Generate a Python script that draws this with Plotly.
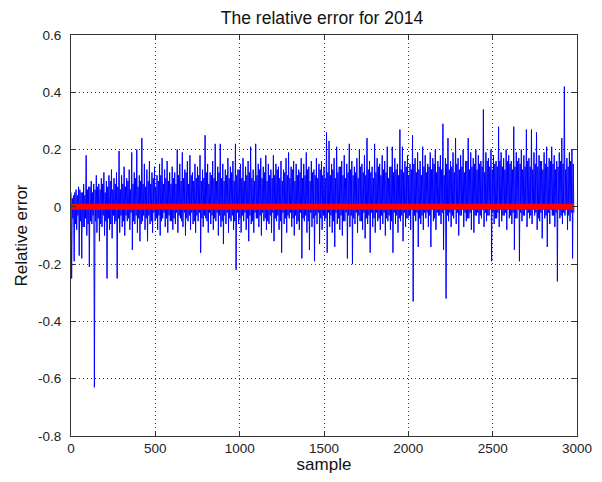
import numpy as np
import plotly.graph_objects as go

# Upper spikes of the relative error (one per 15-sample block)
peaks = [
    0.05, 0.04, 0.06, 0.07, 0.05, 0.08, 0.18, 0.07, 0.09, 0.08,
    0.11, 0.08, 0.10, 0.12, 0.09, 0.11, 0.13, 0.10, 0.12, 0.195,
    0.11, 0.14, 0.10, 0.13, 0.19, 0.12, 0.20, 0.11, 0.24, 0.15,
    0.13, 0.16, 0.12, 0.14, 0.11, 0.15, 0.17, 0.13, 0.16, 0.12,
    0.14, 0.12, 0.20, 0.15, 0.19, 0.13, 0.16, 0.18, 0.12, 0.15,
    0.14, 0.18, 0.13, 0.25, 0.15, 0.12, 0.16, 0.22, 0.14, 0.22,
    0.15, 0.13, 0.17, 0.14, 0.16, 0.22, 0.13, 0.15, 0.17, 0.14,
    0.16, 0.21, 0.13, 0.22, 0.15, 0.17, 0.14, 0.18, 0.15, 0.13,
    0.18, 0.15, 0.14, 0.16, 0.13, 0.17, 0.19, 0.14, 0.16, 0.15,
    0.13, 0.17, 0.15, 0.19, 0.14, 0.16, 0.13, 0.17, 0.15, 0.16,
    0.14, 0.26, 0.23, 0.15, 0.17, 0.21, 0.14, 0.16, 0.18, 0.15,
    0.22, 0.16, 0.14, 0.17, 0.20, 0.15, 0.18, 0.24, 0.16, 0.14,
    0.22, 0.17, 0.15, 0.18, 0.16, 0.21, 0.14, 0.21, 0.17, 0.15,
    0.27, 0.21, 0.16, 0.18, 0.15, 0.25, 0.17, 0.19, 0.16, 0.21,
    0.18, 0.15, 0.19, 0.17, 0.20, 0.16, 0.18, 0.29, 0.17, 0.24,
    0.16, 0.19, 0.24, 0.17, 0.18, 0.20, 0.16, 0.24, 0.19, 0.17,
    0.20, 0.18, 0.16, 0.34, 0.19, 0.17, 0.20, 0.18, 0.16, 0.28,
    0.19, 0.17, 0.20, 0.18, 0.16, 0.28, 0.19, 0.17, 0.20, 0.18,
    0.27, 0.17, 0.27, 0.19, 0.26, 0.18, 0.16, 0.19, 0.21, 0.17,
    0.21, 0.18, 0.16, 0.19, 0.24, 0.42, 0.17, 0.19, 0.20,
]

# Lower spikes of the relative error (one per 15-sample block)
troughs = [
    -0.25, -0.19, -0.08, -0.17, -0.18, -0.07, -0.10, -0.21, -0.06, -0.63,
    -0.09, -0.12, -0.07, -0.10, -0.25, -0.08, -0.11, -0.06, -0.25, -0.09,
    -0.07, -0.10, -0.05, -0.08, -0.15, -0.06, -0.09, -0.12, -0.05, -0.08,
    -0.12, -0.06, -0.09, -0.05, -0.08, -0.10, -0.04, -0.07, -0.09, -0.05,
    -0.08, -0.06, -0.09, -0.04, -0.07, -0.10, -0.05, -0.08, -0.06, -0.09,
    -0.05, -0.16, -0.07, -0.04, -0.09, -0.06, -0.08, -0.05, -0.10, -0.07,
    -0.13, -0.06, -0.09, -0.05, -0.08, -0.22, -0.06, -0.09, -0.05, -0.08,
    -0.12, -0.06, -0.09, -0.04, -0.07, -0.10, -0.05, -0.08, -0.06, -0.09,
    -0.12, -0.05, -0.08, -0.16, -0.06, -0.09, -0.04, -0.07, -0.10, -0.06,
    -0.08, -0.18, -0.05, -0.09, -0.15, -0.07, -0.19, -0.06, -0.13, -0.08,
    -0.05, -0.16, -0.07, -0.09, -0.14, -0.06, -0.08, -0.10, -0.05, -0.18,
    -0.07, -0.20, -0.06, -0.09, -0.05, -0.08, -0.11, -0.06, -0.16, -0.07,
    -0.09, -0.05, -0.08, -0.06, -0.10, -0.05, -0.08, -0.16, -0.06, -0.09,
    -0.05, -0.12, -0.07, -0.04, -0.08, -0.33, -0.05, -0.14, -0.06, -0.08,
    -0.04, -0.07, -0.14, -0.05, -0.08, -0.03, -0.06, -0.15, -0.32, -0.05,
    -0.07, -0.04, -0.06, -0.10, -0.03, -0.07, -0.05, -0.04, -0.08, -0.09,
    -0.03, -0.06, -0.04, -0.07, -0.05, -0.03, -0.19, -0.06, -0.04, -0.07,
    -0.05, -0.03, -0.08, -0.04, -0.06, -0.15, -0.04, -0.19, -0.05, -0.03,
    -0.07, -0.04, -0.06, -0.03, -0.08, -0.05, -0.11, -0.04, -0.14, -0.06,
    -0.03, -0.07, -0.26, -0.04, -0.06, -0.03, -0.08, -0.05, -0.18,
]

# Typical (dense core) upper values per block
core_high = [
    0.03, 0.05, 0.04, 0.06, 0.05, 0.04, 0.06, 0.07, 0.05, 0.06,
    0.07, 0.06, 0.08, 0.05, 0.07, 0.09, 0.06, 0.08, 0.07, 0.06,
    0.08, 0.07, 0.09, 0.06, 0.08, 0.10, 0.07, 0.09, 0.08, 0.07,
    0.09, 0.08, 0.10, 0.07, 0.09, 0.11, 0.08, 0.10, 0.09, 0.08,
    0.10, 0.08, 0.11, 0.09, 0.10, 0.12, 0.08, 0.11, 0.09, 0.10,
    0.11, 0.09, 0.10, 0.12, 0.08, 0.11, 0.10, 0.09, 0.12, 0.10,
    0.09, 0.11, 0.10, 0.12, 0.09, 0.11, 0.13, 0.10, 0.09, 0.11,
    0.12, 0.10, 0.09, 0.11, 0.13, 0.10, 0.12, 0.09, 0.11, 0.10,
    0.11, 0.13, 0.10, 0.09, 0.12, 0.11, 0.10, 0.13, 0.09, 0.11,
    0.12, 0.10, 0.11, 0.13, 0.09, 0.12, 0.11, 0.10, 0.13, 0.11,
    0.10, 0.12, 0.11, 0.13, 0.10, 0.12, 0.14, 0.11, 0.10, 0.12,
    0.13, 0.11, 0.12, 0.10, 0.14, 0.12, 0.11, 0.13, 0.12, 0.10,
    0.12, 0.14, 0.11, 0.13, 0.12, 0.10, 0.14, 0.12, 0.13, 0.11,
    0.13, 0.12, 0.14, 0.11, 0.13, 0.15, 0.12, 0.13, 0.11, 0.14,
    0.12, 0.14, 0.13, 0.15, 0.12, 0.14, 0.13, 0.11, 0.15, 0.13,
    0.14, 0.12, 0.15, 0.13, 0.14, 0.12, 0.16, 0.13, 0.14, 0.15,
    0.13, 0.15, 0.14, 0.12, 0.16, 0.14, 0.13, 0.15, 0.14, 0.16,
    0.14, 0.13, 0.16, 0.15, 0.13, 0.14, 0.16, 0.15, 0.13, 0.14,
    0.16, 0.14, 0.13, 0.15, 0.14, 0.16, 0.13, 0.15, 0.14, 0.16,
    0.15, 0.13, 0.14, 0.16, 0.15, 0.13, 0.14, 0.16, 0.15,
]

# Typical (dense core) lower values per block
core_low = [
    -0.04, -0.06, -0.03, -0.05, -0.07, -0.04, -0.06, -0.05, -0.03, -0.05,
    -0.04, -0.06, -0.03, -0.05, -0.04, -0.06, -0.03, -0.05, -0.04, -0.03,
    -0.05, -0.03, -0.04, -0.02, -0.05, -0.03, -0.04, -0.06, -0.03, -0.04,
    -0.03, -0.05, -0.02, -0.04, -0.03, -0.05, -0.02, -0.04, -0.03, -0.05,
    -0.04, -0.02, -0.03, -0.05, -0.02, -0.04, -0.03, -0.02, -0.05, -0.03,
    -0.02, -0.04, -0.03, -0.05, -0.02, -0.03, -0.04, -0.02, -0.03, -0.05,
    -0.03, -0.02, -0.04, -0.03, -0.05, -0.02, -0.04, -0.03, -0.02, -0.04,
    -0.03, -0.05, -0.02, -0.04, -0.03, -0.02, -0.04, -0.05, -0.03, -0.02,
    -0.04, -0.03, -0.05, -0.02, -0.04, -0.03, -0.02, -0.04, -0.03, -0.05,
    -0.02, -0.04, -0.03, -0.05, -0.02, -0.04, -0.03, -0.02, -0.04, -0.03,
    -0.04, -0.02, -0.03, -0.05, -0.02, -0.04, -0.03, -0.05, -0.02, -0.03,
    -0.03, -0.04, -0.02, -0.03, -0.05, -0.02, -0.04, -0.03, -0.02, -0.04,
    -0.02, -0.04, -0.03, -0.02, -0.04, -0.03, -0.05, -0.02, -0.03, -0.04,
    -0.03, -0.02, -0.04, -0.03, -0.01, -0.03, -0.02, -0.04, -0.03, -0.02,
    -0.02, -0.03, -0.01, -0.04, -0.02, -0.03, -0.02, -0.01, -0.03, -0.02,
    -0.03, -0.01, -0.02, -0.03, -0.01, -0.02, -0.04, -0.02, -0.01, -0.03,
    -0.02, -0.03, -0.01, -0.02, -0.03, -0.01, -0.02, -0.04, -0.02, -0.01,
    -0.03, -0.02, -0.01, -0.03, -0.02, -0.04, -0.01, -0.02, -0.03, -0.01,
    -0.02, -0.03, -0.01, -0.02, -0.04, -0.02, -0.01, -0.03, -0.02, -0.01,
    -0.03, -0.02, -0.01, -0.03, -0.02, -0.01, -0.03, -0.02, -0.02,
]

block = 15.0
n = len(peaks)
sample_x = []
error_y = []
for k in range(n):
    base = k * block
    sample_x += [base, base + block * 0.25, base + block * 0.5, base + block * 0.75]
    error_y += [peaks[k], troughs[k], core_high[k], core_low[k]]

reference_x = [0, sample_x[-1]]
reference_y = [0, 0]

x_ticks = [0, 500, 1000, 1500, 2000, 2500, 3000]
x_labels = ["0", "500", "1000", "1500", "2000", "2500", "3000"]
y_ticks = [-0.8, -0.6, -0.4, -0.2, 0, 0.2, 0.4, 0.6]
y_labels = ["-0.8", "-0.6", "-0.4", "-0.2", "0", "0.2", "0.4", "0.6"]

fig = go.Figure()
fig.add_trace(go.Scatter(x=sample_x, y=error_y, mode="lines",
                         line=dict(color="#0000FF", width=1), showlegend=False))
fig.add_trace(go.Scatter(x=reference_x, y=reference_y, mode="lines",
                         line=dict(color="#FF0000", width=6), showlegend=False))

font = "Liberation Sans, Arial, sans-serif"
axis_common = dict(showline=True, linecolor="#333333", linewidth=1, mirror="ticks",
                   ticks="inside", ticklen=5, tickcolor="#333333",
                   showgrid=True, gridcolor="#333333", griddash="1px,3px", gridwidth=1,
                   zeroline=False, automargin=False,
                   tickfont=dict(family=font, size=13.5, color="#222222"))

# page body adds an 8px offset, so the figure is sized to fit inside it
W, H = 586, 466
fig.update_layout(
    width=W, height=H,
    margin=dict(l=63, r=17, t=27, b=38),
    paper_bgcolor="white", plot_bgcolor="white",
    title=dict(text="The relative error for 2014", x=314 / W, xanchor="center",
               y=1 - 10 / H, yanchor="middle",
               font=dict(family=font, size=17.5, color="#111111")),
    xaxis=dict(range=[0, 3000], tickvals=x_ticks, ticktext=x_labels, ticklabelstandoff=0,
               title=dict(text="sample", font=dict(family=font, size=17, color="#111111"), standoff=4),
               **axis_common),
    yaxis=dict(range=[-0.8, 0.6], tickvals=y_ticks, ticktext=y_labels, ticklabelstandoff=6,
               title=dict(text="Relative error", font=dict(family=font, size=17, color="#111111"), standoff=6),
               **axis_common),
)

fig.write_html("out.html")
